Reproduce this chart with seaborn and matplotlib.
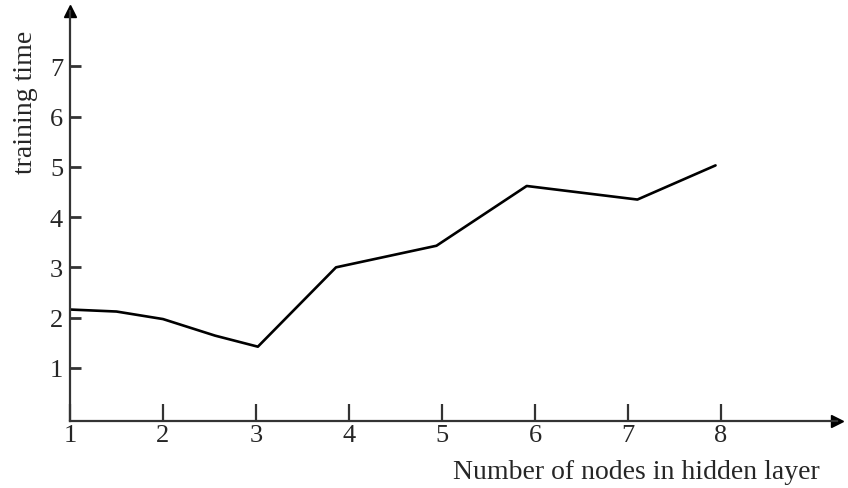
import matplotlib
matplotlib.use("Agg")
import matplotlib.pyplot as plt
import seaborn as sns
import pandas as pd

# values (the curve is hand-drawn, so vertices fall between ticks)
nodes = [1.0, 1.5, 2.0, 2.56, 3.02, 3.86, 4.94, 5.91, 7.10, 7.94]
training_time = [2.16, 2.12, 1.97, 1.64, 1.42, 3.00, 3.43, 4.62, 4.35, 5.03]
x_ticks = [1, 2, 3, 4, 5, 6, 7, 8]
y_ticks = [1, 2, 3, 4, 5, 6, 7]

sns.set_style("white")
plt.rcParams['font.family'] = ['Liberation Serif', 'DejaVu Serif']

df = pd.DataFrame({'nodes': nodes, 'time': training_time})

fig = plt.figure(figsize=(8.48, 4.89), dpi=100)
ax = fig.add_axes([0.0825, 0.137, 0.905, 0.838])

sns.lineplot(data=df, x='nodes', y='time', sort=False, color='black',
             linewidth=1.9, ax=ax)

ax.set_xlim(1, 9.25)
ax.set_ylim(-0.06, 8.1)

for side in ['top', 'right']:
    ax.spines[side].set_visible(False)
for side in ['left', 'bottom']:
    ax.spines[side].set_color('#333333')
    ax.spines[side].set_linewidth(1.6)

# arrow heads at the axis ends
ax.plot(1, -0.06, '>', color='black', markersize=9, transform=ax.get_yaxis_transform(), clip_on=False)
ax.plot(1, 1, '^', color='black', markersize=9, transform=ax.get_xaxis_transform(), clip_on=False)

ax.set_xticks(x_ticks)
ax.set_yticks(y_ticks)
ax.tick_params(axis='x', bottom=True, top=False, direction='in', length=12, width=1.6,
               color='#333333', labelsize=19, pad=2)
ax.tick_params(axis='y', left=True, right=False, direction='in', length=8, width=2,
               color='#333333', labelsize=19, pad=5)

ax.set_xlabel('Number of nodes in hidden layer', fontsize=20)
ax.xaxis.set_label_coords(0.738, -0.092)
ax.set_ylabel('training time', fontsize=20)
ax.yaxis.set_label_coords(-0.042, 0.78)

fig.savefig('out.png', dpi=100)
plt.close(fig)
